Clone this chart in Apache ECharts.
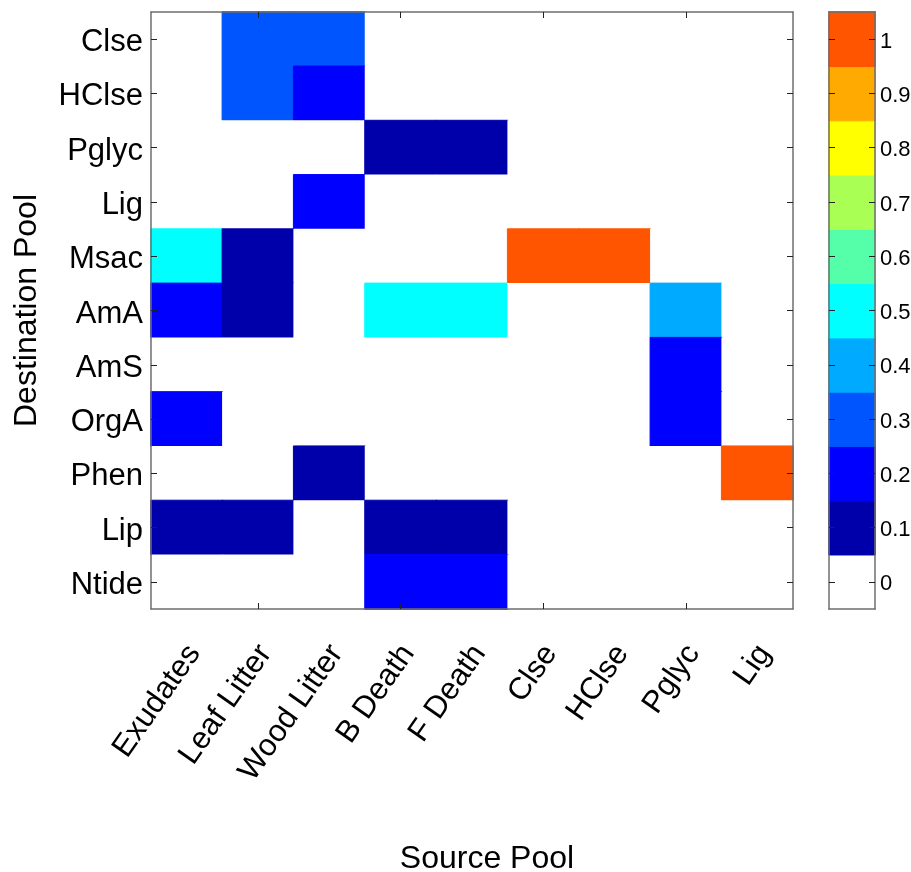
<!DOCTYPE html>
<html>
<head>
<meta charset="utf-8">
<script src="https://cdn.jsdelivr.net/npm/echarts@6/dist/echarts.min.js"></script>
<style>
  html, body { margin: 0; padding: 0; background: #fff; }
  #chart { width: 911px; height: 872px; }
</style>
</head>
<body>
<div id="chart"></div>
<script>
// Source pools (columns) and destination pools (rows)
const sources = ['Exudates', 'Leaf Litter', 'Wood Litter', 'B Death', 'F Death', 'Clse', 'HClse', 'Pglyc', 'Lig'];
const destinations = ['Clse', 'HClse', 'Pglyc', 'Lig', 'Msac', 'AmA', 'AmS', 'OrgA', 'Phen', 'Lip', 'Ntide'];

// Transfer fractions, one array per destination pool (ordered as sources)
const toClse  = [0,   0.3, 0.3, 0,   0,   0, 0, 0,   0];
const toHClse = [0,   0.3, 0.2, 0,   0,   0, 0, 0,   0];
const toPglyc = [0,   0,   0,   0.1, 0.1, 0, 0, 0,   0];
const toLig   = [0,   0,   0.2, 0,   0,   0, 0, 0,   0];
const toMsac  = [0.5, 0.1, 0,   0,   0,   1, 1, 0,   0];
const toAmA   = [0.2, 0.1, 0,   0.5, 0.5, 0, 0, 0.4, 0];
const toAmS   = [0,   0,   0,   0,   0,   0, 0, 0.2, 0];
const toOrgA  = [0.2, 0,   0,   0,   0,   0, 0, 0.2, 0];
const toPhen  = [0,   0,   0.1, 0,   0,   0, 0, 0,   1];
const toLip   = [0.1, 0.1, 0,   0.1, 0.1, 0, 0, 0,   0];
const toNtide = [0,   0,   0,   0.2, 0.2, 0, 0, 0,   0];

// Colour bar levels, tick labels and level colours
const levels = [0, 0.1, 0.2, 0.3, 0.4, 0.5, 0.6, 0.7, 0.8, 0.9, 1];
const levelLabels = ['0', '0.1', '0.2', '0.3', '0.4', '0.5', '0.6', '0.7', '0.8', '0.9', '1'];
const levelColors = ['#ffffff', '#0000aa', '#0000ff', '#0055ff', '#00aaff', '#00ffff',
                     '#55ffaa', '#aaff55', '#ffff00', '#ffaa00', '#ff5500'];

const rows = [toClse, toHClse, toPglyc, toLig, toMsac, toAmA, toAmS, toOrgA, toPhen, toLip, toNtide];

// Colour of the band a value falls in
function bandColor(v) {
  let best = 0;
  levels.forEach((lv, i) => { if (Math.abs(lv - v) < Math.abs(levels[best] - v)) best = i; });
  return levelColors[best];
}

// Filled cells get a thin border in their own colour so neighbouring cells join seamlessly
function cell(x, y, v) {
  return v > 0
    ? { value: [x, y, v], itemStyle: { borderColor: bandColor(v), borderWidth: 1 } }
    : { value: [x, y, v] };
}

const cells = [];
rows.forEach((row, r) => row.forEach((v, c) => cells.push(cell(c, r, v))));
const barCells = levels.map((v, i) => cell(0, i, v));

const FONT = '"Liberation Sans", Arial, Helvetica, sans-serif';
const LINE = '#6e6e6e';
const TICK = '#222';

const chart = echarts.init(document.getElementById('chart'), null, { renderer: 'canvas' });

const tickEvery2 = { show: true, inside: true, length: 6, alignWithLabel: true,
  interval: (idx) => idx % 2 === 1, lineStyle: { color: TICK, width: 1 } };
const tickAll = { show: true, inside: true, length: 6, alignWithLabel: true,
  interval: 0, lineStyle: { color: TICK, width: 1 } };
const axisLine = { show: true, onZero: false, lineStyle: { color: LINE, width: 1.5 } };

chart.setOption({
  backgroundColor: '#ffffff',
  animation: false,
  grid: [
    { left: 151, top: 12, width: 642, height: 597, outerBoundsMode: 'none', containLabel: false },
    { left: 829, top: 12, width: 46, height: 597, outerBoundsMode: 'none', containLabel: false }
  ],
  xAxis: [
    {
      type: 'category', gridIndex: 0, position: 'bottom', data: sources, z: 5,
      axisLine: axisLine, axisTick: tickEvery2, splitLine: { show: false },
      axisLabel: { interval: 0, rotate: 55, margin: 34, verticalAlign: 'top', lineHeight: 18,
        fontFamily: FONT, fontSize: 31, color: '#000' },
      name: 'Source Pool', nameLocation: 'middle', nameGap: 234,
      nameTextStyle: { fontFamily: FONT, fontSize: 32, color: '#000', padding: [0, 0, 0, 30] }
    },
    {
      type: 'category', gridIndex: 0, position: 'top', data: sources, z: 5,
      axisLine: axisLine, axisTick: tickEvery2, axisLabel: { show: false }, splitLine: { show: false }
    },
    {
      type: 'category', gridIndex: 1, position: 'bottom', data: [''], z: 5,
      axisLine: axisLine, axisTick: { show: false }, axisLabel: { show: false }, splitLine: { show: false }
    },
    {
      type: 'category', gridIndex: 1, position: 'top', data: [''], z: 5,
      axisLine: axisLine, axisTick: { show: false }, axisLabel: { show: false }, splitLine: { show: false }
    }
  ],
  yAxis: [
    {
      type: 'category', gridIndex: 0, position: 'left', inverse: true, data: destinations, z: 5,
      axisLine: axisLine, axisTick: tickAll, splitLine: { show: false },
      axisLabel: { interval: 0, margin: 8, verticalAlign: 'top', lineHeight: 7,
        fontFamily: FONT, fontSize: 31, color: '#000' },
      name: 'Destination Pool', nameLocation: 'middle', nameRotate: 90, nameGap: 108,
      nameTextStyle: { fontFamily: FONT, fontSize: 32, color: '#000' }
    },
    {
      type: 'category', gridIndex: 0, position: 'right', inverse: true, data: destinations, z: 5,
      axisLine: axisLine, axisTick: tickAll, axisLabel: { show: false }, splitLine: { show: false }
    },
    {
      type: 'category', gridIndex: 1, position: 'right', data: levelLabels, z: 5,
      axisLine: axisLine, axisTick: tickAll, splitLine: { show: false },
      axisLabel: { interval: 0, margin: 5, verticalAlign: 'top', lineHeight: 5,
        fontFamily: FONT, fontSize: 22, color: '#000' }
    },
    {
      type: 'category', gridIndex: 1, position: 'left', data: levelLabels, z: 5,
      axisLine: axisLine, axisTick: tickAll, axisLabel: { show: false }, splitLine: { show: false }
    }
  ],
  visualMap: {
    type: 'piecewise', show: false, dimension: 2, seriesIndex: [0, 1],
    pieces: levels.map((v, i) => ({ gte: v - 0.05, lt: v + 0.05, color: levelColors[i] }))
  },
  series: [
    {
      type: 'heatmap', xAxisIndex: 0, yAxisIndex: 0, data: cells,
      emphasis: { disabled: true }, z: 1
    },
    {
      type: 'heatmap', xAxisIndex: 2, yAxisIndex: 2, data: barCells,
      emphasis: { disabled: true }, z: 1
    }
  ]
});
</script>
</body>
</html>
